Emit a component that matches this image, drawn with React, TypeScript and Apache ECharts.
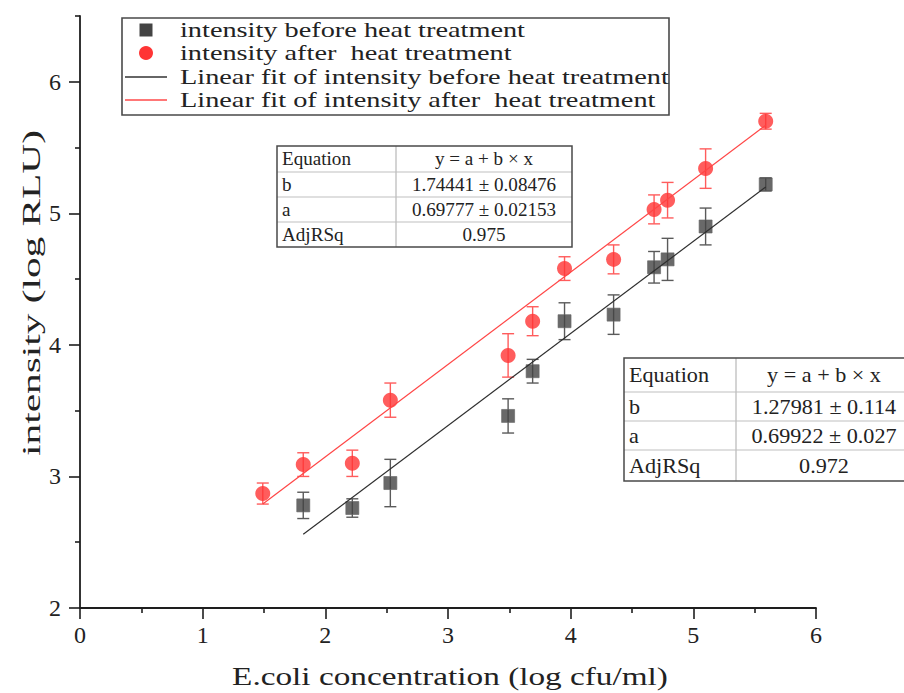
import React, { useEffect, useRef } from "react";
import * as echarts from "echarts";

// Measured points: x = E.coli concentration (log cfu/ml), y = intensity (log RLU), err = half error bar
const xBefore = [1.82, 2.22, 2.53, 3.49, 3.69, 3.95, 4.35, 4.68, 4.79, 5.10, 5.59];
const yBefore = [2.78, 2.76, 2.95, 3.46, 3.80, 4.18, 4.23, 4.59, 4.65, 4.90, 5.22];
const errBefore = [0.10, 0.07, 0.18, 0.13, 0.09, 0.14, 0.15, 0.12, 0.16, 0.14, 0.05];

const xAfter = [1.49, 1.82, 2.22, 2.53, 3.49, 3.69, 3.95, 4.35, 4.68, 4.79, 5.10, 5.59];
const yAfter = [2.87, 3.09, 3.10, 3.58, 3.92, 4.18, 4.58, 4.65, 5.03, 5.10, 5.34, 5.70];
const errAfter = [0.08, 0.09, 0.10, 0.13, 0.165, 0.11, 0.09, 0.11, 0.11, 0.135, 0.15, 0.06];

// Linear fit segments (start and end points)
const fitBeforeX = [1.82, 5.59];
const fitBeforeY = [2.56, 5.20];
const fitAfterX = [1.49, 5.59];
const fitAfterY = [2.79, 5.67];

const seriesNames = [
  "intensity before heat treatment",
  "intensity after  heat treatment",
  "Linear fit of intensity before heat treatment",
  "Linear fit of intensity after  heat treatment",
];

// Fit statistics tables
const tableLabels = ["Equation", "b", "a", "AdjRSq"];
const tableUpperValues = ["y = a + b × x", "1.74441 ± 0.08476", "0.69777 ± 0.02153", "0.975"];
const tableLowerValues = ["y = a + b × x", "1.27981 ± 0.114", "0.69922 ± 0.027", "0.972"];

const xTitle = "E.coli concentration (log cfu/ml)";
const yTitle = "intensity (log RLU)";

const xTicks = [0, 1, 2, 3, 4, 5, 6];
const yMajorTicks = [2, 3, 4, 5, 6];
const yMinorTicks = [2.5, 3.5, 4.5, 5.5, 6.5];

const BLACK = "#444444";
const RED = "#ff3535";
const AXIS = "#1e1e1e";
const SERIF = '"Liberation Serif", serif';

// Horizontal scale that makes a string span a given width in a given font
let measureCtx: CanvasRenderingContext2D | null = null;
function widthScale(text: string, font: string, target: number) {
  if (!measureCtx) measureCtx = document.createElement("canvas").getContext("2d");
  if (!measureCtx) return 1;
  measureCtx.font = font;
  const w = measureCtx.measureText(text).width;
  return w > 0 ? target / w : 1;
}

function errorSeries(xs: number[], ys: number[], es: number[], color: string, name: string) {
  return {
    type: "custom",
    name,
    data: xs.map((x, i) => [x, ys[i] - es[i], ys[i] + es[i]]),
    encode: { x: 0, y: [1, 2] },
    silent: true,
    renderItem: (_p: any, api: any) => {
      const x = api.value(0);
      const lo = api.coord([x, api.value(1)]);
      const hi = api.coord([x, api.value(2)]);
      const hw = 6;
      const style = { stroke: color, lineWidth: 1.4 };
      return {
        type: "group",
        children: [
          { type: "line", shape: { x1: lo[0], y1: lo[1], x2: hi[0], y2: hi[1] }, style },
          { type: "line", shape: { x1: lo[0] - hw, y1: lo[1], x2: lo[0] + hw, y2: lo[1] }, style },
          { type: "line", shape: { x1: hi[0] - hw, y1: hi[1], x2: hi[0] + hw, y2: hi[1] }, style },
        ],
      };
    },
  };
}

function buildTable(
  left: number,
  right: number,
  rowEdges: number[],
  colX: number,
  fontSize: number,
  labelWidth: number,
  scaleY: number,
  labels: string[],
  values: string[]
) {
  const els: any[] = [];
  const top = rowEdges[0];
  const bottom = rowEdges[rowEdges.length - 1];
  els.push({
    type: "rect",
    shape: { x: left, y: top, width: right - left, height: bottom - top },
    style: { fill: "#ffffff", stroke: "none" },
  });
  for (let i = 1; i < rowEdges.length - 1; i++) {
    els.push({
      type: "line",
      shape: { x1: left, y1: rowEdges[i], x2: right, y2: rowEdges[i] },
      style: { stroke: "#d4d4d4", lineWidth: 1.3 },
    });
  }
  els.push({
    type: "line",
    shape: { x1: colX, y1: top, x2: colX, y2: bottom },
    style: { stroke: "#bdbdbd", lineWidth: 1.3 },
  });
  els.push({
    type: "rect",
    shape: { x: left, y: top, width: right - left, height: bottom - top },
    style: { fill: "none", stroke: "#4a4a4a", lineWidth: 1.5 },
  });
  const font = `${fontSize}px ${SERIF}`;
  const sx = widthScale(labels[0], font, labelWidth);
  labels.forEach((lab, i) => {
    const cy = (rowEdges[i] + rowEdges[i + 1]) / 2;
    els.push({
      type: "text",
      x: left + 5,
      y: cy,
      scaleX: sx,
      scaleY,
      style: { text: lab, font, fill: "#222", textAlign: "left", textVerticalAlign: "middle" },
    });
    els.push({
      type: "text",
      x: (colX + right) / 2,
      y: cy,
      scaleX: sx,
      scaleY,
      style: { text: values[i], font, fill: "#222", textAlign: "center", textVerticalAlign: "middle" },
    });
  });
  return els;
}

function buildLegend() {
  const font = `20px ${SERIF}`;
  const sx = widthScale(seriesNames[2], font, 489);
  const rowsY = [30, 53, 77, 100];
  const els: any[] = [
    {
      type: "rect",
      shape: { x: 122, y: 18, width: 547, height: 97 },
      style: { fill: "#ffffff", stroke: "#4a4a4a", lineWidth: 1.6 },
    },
    { type: "rect", shape: { x: 139.5, y: rowsY[0] - 6.5, width: 13, height: 13 }, style: { fill: BLACK } },
    { type: "circle", shape: { cx: 146, cy: rowsY[1], r: 7 }, style: { fill: RED } },
    { type: "line", shape: { x1: 125, y1: rowsY[2], x2: 167, y2: rowsY[2] }, style: { stroke: "#333", lineWidth: 1.3 } },
    { type: "line", shape: { x1: 125, y1: rowsY[3], x2: 167, y2: rowsY[3] }, style: { stroke: "#ff4a4a", lineWidth: 1.3 } },
  ];
  seriesNames.forEach((n, i) => {
    els.push({
      type: "text",
      x: 180,
      y: rowsY[i],
      scaleX: sx,
      style: { text: n, font, fill: "#222", textAlign: "left", textVerticalAlign: "middle" },
    });
  });
  return els;
}

export default function App() {
  const ref = useRef<HTMLDivElement>(null);

  useEffect(() => {
    if (!ref.current) return;
    const chart = echarts.init(ref.current, null, { renderer: "svg" });
    const tickFont = { fontFamily: SERIF, fontSize: 24, color: "#222" };
    const titleFont = `25px ${SERIF}`;

    chart.setOption({
      animation: false,
      backgroundColor: "#ffffff",
      grid: { left: 80, right: 88, top: 16, bottom: 85, containLabel: false },
      xAxis: {
        type: "value",
        min: 0,
        max: 6,
        interval: 1,
        axisLine: { onZero: false, lineStyle: { color: AXIS, width: 1.8 } },
        axisTick: { length: 11, customValues: xTicks, lineStyle: { color: AXIS, width: 1.6 } },
        minorTick: { show: true, splitNumber: 2, length: 5, lineStyle: { color: AXIS, width: 1.6 } },
        splitLine: { show: false },
        minorSplitLine: { show: false },
        axisLabel: { ...tickFont, margin: 15, customValues: xTicks },
      },
      yAxis: [
        {
          type: "value",
          min: 2,
          max: 6.5,
          interval: 1,
          axisLine: { show: true, onZero: false, lineStyle: { color: AXIS, width: 1.8 } },
          axisTick: { show: true, length: 11, customValues: yMajorTicks, lineStyle: { color: AXIS, width: 1.6 } },
          splitLine: { show: false },
          axisLabel: { ...tickFont, margin: 19, customValues: yMajorTicks },
        },
        {
          type: "value",
          min: 2,
          max: 6.5,
          position: "left",
          axisLine: { show: false },
          axisTick: { show: true, length: 5, customValues: yMinorTicks, lineStyle: { color: AXIS, width: 1.6 } },
          splitLine: { show: false },
          axisLabel: { show: false },
        },
      ],
      series: [
        errorSeries(xBefore, yBefore, errBefore, "#5a5a5a", "error before"),
        errorSeries(xAfter, yAfter, errAfter, "#ff5c5c", "error after"),
        {
          type: "line",
          name: seriesNames[2],
          data: fitBeforeX.map((x, i) => [x, fitBeforeY[i]]),
          showSymbol: false,
          lineStyle: { color: "#2e2e2e", width: 1.2 },
          silent: true,
        },
        {
          type: "line",
          name: seriesNames[3],
          data: fitAfterX.map((x, i) => [x, fitAfterY[i]]),
          showSymbol: false,
          lineStyle: { color: "#ff4545", width: 1.2 },
          silent: true,
        },
        {
          type: "scatter",
          name: seriesNames[0],
          data: xBefore.map((x, i) => [x, yBefore[i]]),
          symbol: "rect",
          symbolSize: 13,
          itemStyle: { color: BLACK, borderColor: "#666", borderWidth: 0.8 },
        },
        {
          type: "scatter",
          name: seriesNames[1],
          data: xAfter.map((x, i) => [x, yAfter[i]]),
          symbol: "circle",
          symbolSize: 15,
          itemStyle: { color: RED },
        },
      ],
      graphic: [
        ...buildLegend(),
        ...buildTable(277, 572, [146, 172, 197, 222, 247], 396, 17, 69, 1.1, tableLabels, tableUpperValues),
        ...buildTable(624, 912, [358, 392, 421, 450, 481], 736, 20, 80, 1.1, tableLabels, tableLowerValues),
        {
          type: "text",
          x: 450,
          y: 677,
          scaleX: widthScale(xTitle, titleFont, 436),
          style: { text: xTitle, font: titleFont, fill: "#222", textAlign: "center", textVerticalAlign: "middle" },
        },
        {
          type: "text",
          x: 32,
          y: 293,
          rotation: Math.PI / 2,
          scaleX: widthScale(yTitle, titleFont, 326),
          style: { text: yTitle, font: titleFont, fill: "#222", textAlign: "center", textVerticalAlign: "middle" },
        },
      ],
    });

    return () => chart.dispose();
  }, []);

  return <div ref={ref} style={{ width: 904, height: 693, position: "absolute", left: 0, top: 0 }} />;
}
